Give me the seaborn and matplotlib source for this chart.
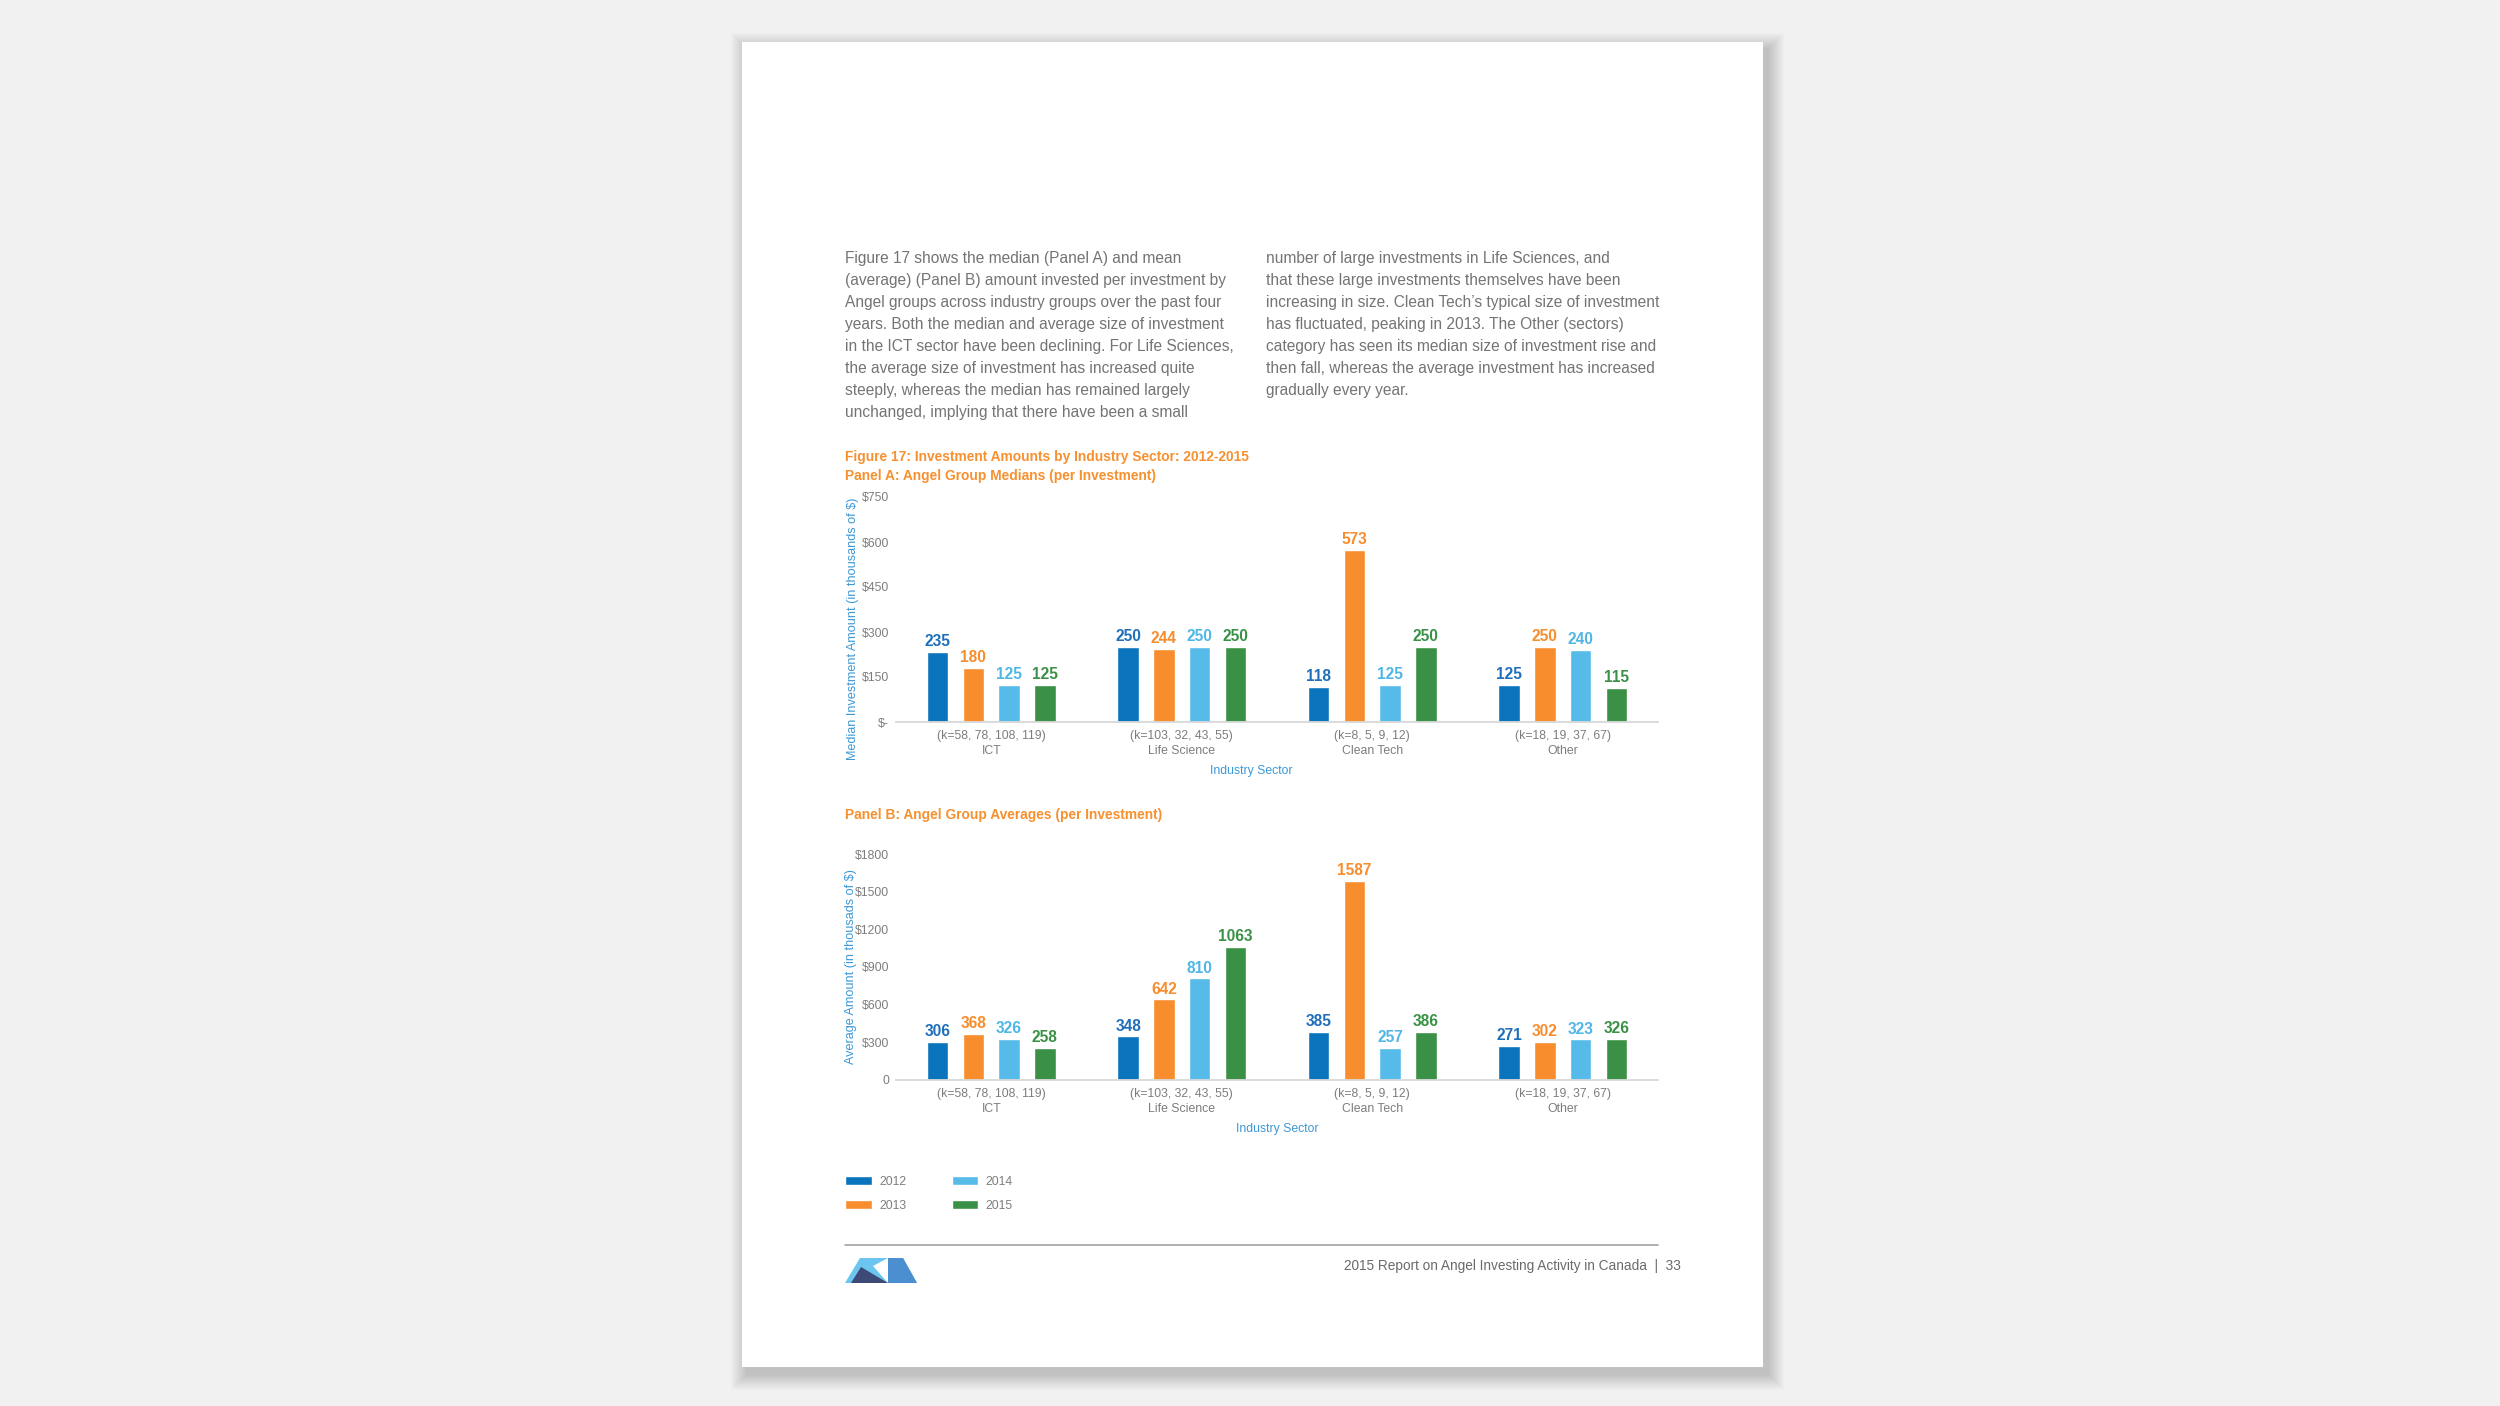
import numpy as np
import pandas as pd
import matplotlib
matplotlib.use("Agg")
import matplotlib.pyplot as plt
import seaborn as sns
from matplotlib.patches import Rectangle, Polygon

# ---------------- data ----------------
sectors = ["ICT", "Life Science", "Clean Tech", "Other"]
k_counts = ["(k=58, 78, 108, 119)", "(k=103, 32, 43, 55)", "(k=8, 5, 9, 12)", "(k=18, 19, 37, 67)"]
years = ["2012", "2013", "2014", "2015"]

median_2012 = [235, 250, 118, 125]
median_2013 = [180, 244, 573, 250]
median_2014 = [125, 250, 125, 240]
median_2015 = [125, 250, 250, 115]

average_2012 = [306, 348, 385, 271]
average_2013 = [368, 642, 1587, 302]
average_2014 = [326, 810, 257, 323]
average_2015 = [258, 1063, 386, 326]

median_ticks = [0, 150, 300, 450, 600, 750]
median_ticklabels = ["$-", "$150", "$300", "$450", "$600", "$750"]
average_ticks = [0, 300, 600, 900, 1200, 1500, 1800]
average_ticklabels = ["0", "$300", "$600", "$900", "$1200", "$1500", "$1800"]

year_colors = ["#0a74bd", "#f78d2d", "#56bbe9", "#3a9145"]
label_colors = ["#1f6fba", "#f78d2d", "#4fb6e6", "#3a9145"]

body_left = [
    "Figure 17 shows the median (Panel A) and mean",
    "(average) (Panel B) amount invested per investment by",
    "Angel groups across industry groups over the past four",
    "years. Both the median and average size of investment",
    "in the ICT sector have been declining. For Life Sciences,",
    "the average size of investment has increased quite",
    "steeply, whereas the median has remained largely",
    "unchanged, implying that there have been a small",
]
body_right = [
    "number of large investments in Life Sciences, and",
    "that these large investments themselves have been",
    "increasing in size. Clean Tech\u2019s typical size of investment",
    "has fluctuated, peaking in 2013. The Other (sectors)",
    "category has seen its median size of investment rise and",
    "then fall, whereas the average investment has increased",
    "gradually every year.",
]


def long_frame(series):
    rows = []
    for yr, vals in zip(years, series):
        for s, v in zip(sectors, vals):
            rows.append({"sector": s, "year": yr, "value": v})
    return pd.DataFrame(rows)


df_median = long_frame([median_2012, median_2013, median_2014, median_2015])
df_average = long_frame([average_2012, average_2013, average_2014, average_2015])

# ---------------- style ----------------
sns.set_theme(style="white")
plt.rcParams["font.family"] = ["Liberation Sans", "DejaVu Sans"]

W, H = 2500, 1406
fig = plt.figure(figsize=(W / 100, H / 100), dpi=100)
fig.patch.set_facecolor("#f1f1f1")


def fx(px):
    return px / W


def fy(py):
    return 1 - py / H


# page with soft shadow (mostly bottom-right)
pL, pT, pR, pB = 742, 42, 1763, 1367
for r in range(16, 0, -1):
    fig.patches.append(Rectangle((fx(pL - r + 5), fy(pB + r + 7)), (pR - pL + 2 * r) / W,
                                 (pB - pT + 2 * r) / H, transform=fig.transFigure,
                                 facecolor="black", edgecolor="none", alpha=0.011, zorder=-20))
fig.patches.append(Rectangle((fx(pL), fy(pB)), (pR - pL) / W, (pB - pT) / H,
                             transform=fig.transFigure, facecolor="white",
                             edgecolor="none", zorder=-10))

# body text
body_color = "#737476"
for i, line in enumerate(body_left):
    fig.text(fx(845), fy(259 + i * 21.9), line, fontsize=11.2, color=body_color,
             ha="left", va="center")
for i, line in enumerate(body_right):
    fig.text(fx(1266), fy(259 + i * 21.9), line, fontsize=11.2, color=body_color,
             ha="left", va="center")

title_color = "#f7902f"
fig.text(fx(845), fy(457), "Figure 17: Investment Amounts by Industry Sector: 2012-2015",
         fontsize=9.9, color=title_color, fontweight="bold", ha="left", va="center")
fig.text(fx(845), fy(476), "Panel A: Angel Group Medians (per Investment)",
         fontsize=9.9, color=title_color, fontweight="bold", ha="left", va="center")
fig.text(fx(845), fy(815), "Panel B: Angel Group Averages (per Investment)",
         fontsize=9.9, color=title_color, fontweight="bold", ha="left", va="center")

axis_blue = "#3d98d6"
tick_gray = "#7d7d7d"

axA = fig.add_axes([fx(896), fy(722), (1658 - 896) / W, (722 - 497) / H])
axB = fig.add_axes([fx(896), fy(1080), (1658 - 896) / W, (1080 - 854) / H])


def draw_panel(ax, df, ticks, ticklabels, ymax):
    sns.barplot(data=df, x="sector", y="value", hue="year", order=sectors,
                hue_order=years, palette=year_colors, saturation=1,
                width=0.75, gap=0.4, ax=ax, errorbar=None)
    ax.set_facecolor("none")
    ax.set_xlim(-0.5, 3.5)
    ax.set_ylim(0, ymax)
    ax.set_yticks(ticks)
    ax.set_yticklabels(ticklabels)
    ax.set_xticks(range(len(sectors)))
    ax.set_xticklabels([f"{k}\n{s}" for k, s in zip(k_counts, sectors)],
                       linespacing=1.25)
    ax.tick_params(axis="x", length=0, pad=6, labelsize=8.8, labelcolor=tick_gray)
    ax.tick_params(axis="y", length=0, pad=5, labelsize=8.8, labelcolor=tick_gray)
    ax.set_xlabel("")
    ax.set_ylabel("")
    for side in ["left", "right", "top"]:
        ax.spines[side].set_visible(False)
    ax.spines["bottom"].set_color("#d8d8d8")
    ax.spines["bottom"].set_linewidth(1.3)
    for cont, col in zip(ax.containers, label_colors):
        ax.bar_label(cont, fmt="{:.0f}", padding=2, color=col, fontsize=11.2,
                     fontweight="bold")
    leg = ax.get_legend()
    handles, labels = ax.get_legend_handles_labels()
    if leg is not None:
        leg.remove()
    return handles, labels


handles, labels = draw_panel(axA, df_median, median_ticks, median_ticklabels, 750)
draw_panel(axB, df_average, average_ticks, average_ticklabels, 1800)

fig.text(fx(853), fy(629), "Median Investment Amount (in thousands of $)", rotation=90,
         fontsize=9.1, color=axis_blue, ha="center", va="center")
fig.text(fx(851), fy(967), "Average Amount (in thousads of $)", rotation=90,
         fontsize=9.1, color=axis_blue, ha="center", va="center")
fig.text(fx(1251), fy(771), "Industry Sector", fontsize=8.8, color=axis_blue,
         ha="center", va="center")
fig.text(fx(1277), fy(1129), "Industry Sector", fontsize=8.8, color=axis_blue,
         ha="center", va="center")

fig.legend(handles, labels, loc="upper left", bbox_to_anchor=(fx(845), fy(1176)),
           ncol=2, frameon=False, fontsize=8.8, labelcolor=tick_gray,
           handlelength=2.2, handleheight=0.75, handletextpad=0.6,
           columnspacing=3.7, labelspacing=1.0, borderpad=0, borderaxespad=0)

# footer
fig.lines.append(plt.Line2D([fx(845), fx(1658)], [fy(1245), fy(1245)],
                            transform=fig.transFigure, color="#9a9a9a", lw=1.1))
fig.text(fx(1681), fy(1266), "2015 Report on Angel Investing Activity in Canada  |  33",
         fontsize=9.8, color="#6a6a6a", ha="right", va="center")


def poly(points, color):
    pts = [(fx(x), fy(y)) for x, y in points]
    fig.patches.append(Polygon(pts, closed=True, transform=fig.transFigure,
                               facecolor=color, edgecolor="none", zorder=2))


poly([(860, 1258), (903, 1258), (917, 1283), (845, 1283)], "#6cc5ef")
poly([(888, 1258), (903, 1258), (917, 1283), (888, 1283)], "#4c8fd0")
poly([(873, 1266), (888, 1258), (888, 1283)], "#ffffff")
poly([(851, 1283), (861, 1267), (888, 1283)], "#3d4a78")

fig.savefig("out.png", dpi=100, facecolor=fig.get_facecolor())
